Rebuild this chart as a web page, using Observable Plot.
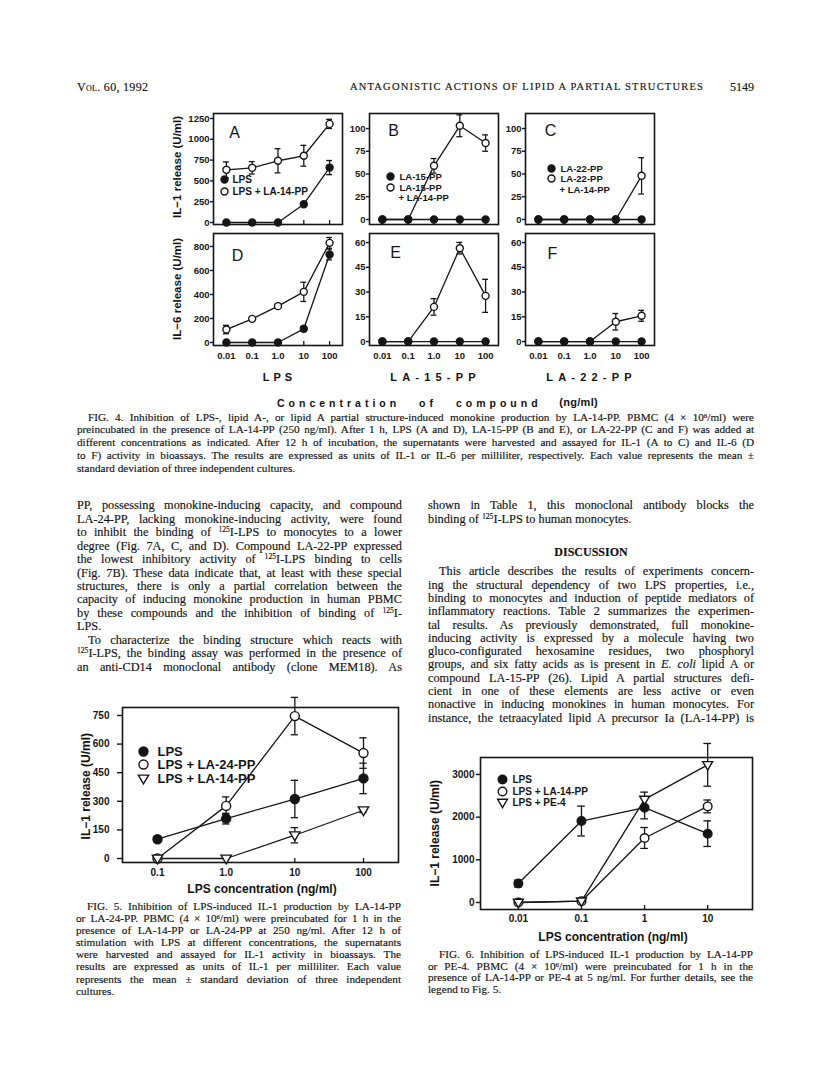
<!DOCTYPE html>
<html><head><meta charset="utf-8">
<script src="https://cdn.jsdelivr.net/npm/d3@7"></script>
<script src="https://cdn.jsdelivr.net/npm/@observablehq/plot@0.6"></script>
<style>
html,body{margin:0;padding:0;background:#fff;}
#page{position:relative;width:816px;height:1078px;overflow:hidden;background:#fff;color:#111;font-family:"Liberation Serif","Times New Roman",serif;-webkit-text-stroke:0.15px #111;}
#page sup{font-size:0.62em;vertical-align:0.5em;line-height:0;}
.sans{font-family:"Liberation Sans",Arial,sans-serif;font-weight:bold;-webkit-text-stroke:0;}
</style></head>
<body><div id="page"></div>
<script>
// ---------------- DATA ----------------
// Fig. 4 (concentration of compound, ng/ml)
const fig4X = [0.01, 0.1, 1, 10, 100];
const fig4XLabels = ["0.01", "0.1", "1.0", "10", "100"];
const fig4GroupLabels = ["LPS", "LA-15-PP", "LA-22-PP"];
// A: IL-1, LPS
const aLPS = [0, 0, 0, 220, 660];
const aLPSsd = [0, 0, 0, 20, 85];
const aLPS14 = [633, 657, 742, 802, 1185];
const aLPS14sd = [95, 75, 145, 125, 55];
// B: IL-1, LA-15-PP
const bLA15 = [0, 0, 0, 0, 0];
const bLA15sd = [0, 0, 0, 0, 0];
const bLA15_14 = [0, 0, 59, 103, 84];
const bLA15_14sd = [0, 0, 8, 12, 9];
// C: IL-1, LA-22-PP
const cLA22 = [0, 0, 0, 0, 0];
const cLA22sd = [0, 0, 0, 0, 0];
const cLA22_14 = [0, 0, 0, 0, 48];
const cLA22_14sd = [0, 0, 0, 0, 20];
// D: IL-6, LPS
const dLPS = [0, 0, 0, 114, 733];
const dLPSsd = [0, 0, 0, 20, 45];
const dLPS14 = [108, 197, 303, 422, 830];
const dLPS14sd = [35, 15, 20, 80, 45];
// E: IL-6, LA-15-PP
const eLA15 = [0, 0, 0, 0, 0];
const eLA15sd = [0, 0, 0, 0, 0];
const eLA15_14 = [0, 0, 21, 56.6, 27.7];
const eLA15_14sd = [0, 0, 5, 3.5, 10];
// F: IL-6, LA-22-PP
const fLA22 = [0, 0, 0, 0, 0];
const fLA22sd = [0, 0, 0, 0, 0];
const fLA22_14 = [0, 0, 0, 12, 15.6];
const fLA22_14sd = [0, 0, 0, 5, 3.3];
const il1Ticks = [0, 250, 500, 750, 1000, 1250];
const il1ppTicks = [0, 25, 50, 75, 100];
const il6Ticks = [0, 200, 400, 600, 800];
const il6ppTicks = [0, 15, 30, 45, 60];

// Fig. 5
const fig5X = [0.1, 1, 10, 100];
const fig5XLabels = ["0.1", "1.0", "10", "100"];
const fig5LPS = [101, 209, 312, 420];
const fig5LPSsd = [14, 28, 98, 80];
const fig5LPS24 = [0, 276, 747, 553];
const fig5LPS24sd = [0, 47, 98, 80];
const fig5LPS14 = [0, 0, 122, 253];
const fig5LPS14sd = [0, 0, 40, 12];
const fig5Ticks = [0, 150, 300, 450, 600, 750];

// Fig. 6
const fig6X = [0.01, 0.1, 1, 10];
const fig6XLabels = ["0.01", "0.1", "1", "10"];
const fig6LPS = [444, 1909, 2221, 1613];
const fig6LPSsd = [80, 350, 260, 300];
const fig6LPS14 = [0, 31, 1512, 2252];
const fig6LPS14sd = [0, 0, 245, 150];
const fig6PE4 = [0, 31, 2416, 3226];
const fig6PE4sd = [0, 0, 170, 500];
const fig6Ticks = [0, 1000, 2000, 3000];

// ---------------- HELPERS ----------------
const page = document.getElementById("page");
const INK = "#151515";
const triangleDown = {
  draw(ctx, size) {
    const r = Math.sqrt(size / Math.PI);
    ctx.moveTo(-r * 1.15, -r * 0.75);
    ctx.lineTo(r * 1.15, -r * 0.75);
    ctx.lineTo(0, r * 1.2);
    ctx.closePath();
  }
};

function rows(xs, ys, sds) { return xs.map((x, i) => ({x, y: ys[i], e: sds[i]})); }

function chart(cfg) {
  const {fl, ft, fw, fh, xDomain, xTicks, xLabels, yDomain, yTicks, series,
         capF, mB = 4, xPad = 6, yTickSize = 3, yPad = 1, fontSize = 9.5, r = 3.5,
         legend = [], legendFont = 10, letter = null, strokeW = 1.3} = cfg;
  const mL = 45, mR = 4, mT = 4;
  const marks = [Plot.frame({stroke: INK, strokeWidth: 1.6})];
  marks.push(Plot.axisY({ticks: yTicks, tickSize: yTickSize, tickPadding: yPad, label: null,
    tickFormat: d => String(d), stroke: INK, strokeWidth: 1.4}));
  if (xLabels) {
    const m = new Map(xTicks.map((t, i) => [t, xLabels[i]]));
    marks.push(Plot.axisX({ticks: xTicks, tickSize: 0, tickPadding: xPad, label: null,
      tickFormat: d => m.get(d)}));
  }
  marks.push(Plot.tickX(xTicks, {x: d => d, insetTop: fh - 4, stroke: INK, strokeWidth: 1.3}));
  for (const s of series) {
    const data = rows(xTicks, s.y, s.sd);
    const eb = data.filter(d => d.e > 0);
    marks.push(Plot.line(data, {x: "x", y: "y", stroke: INK, strokeWidth: strokeW}));
    marks.push(Plot.ruleX(eb, {x: "x", y1: d => d.y - d.e, y2: d => d.y + d.e, stroke: INK, strokeWidth: 1.3}));
    marks.push(Plot.ruleY(eb, {y: d => d.y + d.e, x1: d => d.x / capF, x2: d => d.x * capF, stroke: INK, strokeWidth: 1.3}));
    marks.push(Plot.ruleY(eb, {y: d => d.y - d.e, x1: d => d.x / capF, x2: d => d.x * capF, stroke: INK, strokeWidth: 1.3}));
  }
  for (const s of series) {
    const data = rows(xTicks, s.y, s.sd);
    marks.push(Plot.dot(data, {x: "x", y: "y", r, fill: s.fill, stroke: INK, strokeWidth: 1.4, symbol: s.symbol || "circle"}));
  }
  for (const it of legend) {
    if (it.sym) marks.push(Plot.dot([it.label], {frameAnchor: "top-left", dx: it.mx, dy: it.dy, r, fill: it.sym.fill, stroke: INK, strokeWidth: 1.4, symbol: it.sym.symbol || "circle"}));
    marks.push(Plot.text([it.label], {frameAnchor: "top-left", lineAnchor: "middle", dx: it.tx, dy: it.dy, text: d => d, textAnchor: "start", fontSize: legendFont, fontWeight: "bold", fill: INK}));
  }
  if (letter) marks.push(Plot.text([letter.t], {frameAnchor: "top-left", lineAnchor: "middle", dx: letter.dx, dy: letter.dy, text: d => d, textAnchor: "middle", fontSize: 16, fontWeight: "normal", fill: INK}));
  const svg = Plot.plot({
    width: fw + mL + mR, height: fh + mT + mB,
    marginLeft: mL, marginRight: mR, marginTop: mT, marginBottom: mB,
    x: {type: "log", domain: xDomain, axis: null},
    y: {domain: yDomain, axis: null},
    style: {fontFamily: "'Liberation Sans', Arial, sans-serif", fontSize: fontSize + "px", fontWeight: "bold", color: INK, background: "transparent", overflow: "visible"},
    marks
  });
  svg.style.position = "absolute";
  svg.style.left = (fl - mL) + "px";
  svg.style.top = (ft - mT) + "px";
  svg.style.webkitTextStroke = "0";
  page.appendChild(svg);
}

function label(html, x, yc, opts = {}) {
  const d = document.createElement("div");
  d.innerHTML = html;
  const fs = opts.fs || 11, lh = opts.lh || fs * 1.2;
  Object.assign(d.style, {position: "absolute", whiteSpace: "nowrap", fontSize: fs + "px", lineHeight: lh + "px",
    top: (yc - lh / 2) + "px"});
  if (opts.cls) d.className = opts.cls;
  if (opts.ls != null) d.style.letterSpacing = opts.ls + "px";
  if (opts.ws != null) d.style.wordSpacing = opts.ws + "px";
  if (opts.variant) d.style.fontVariant = opts.variant;
  if (opts.weight) d.style.fontWeight = opts.weight;
  page.appendChild(d);
  const w = d.getBoundingClientRect().width;
  if (opts.align === "center") d.style.left = (x - w / 2) + "px";
  else if (opts.align === "right") d.style.left = (x - w) + "px";
  else d.style.left = x + "px";
  if (opts.rotate) {
    d.style.left = (x - w / 2) + "px";
    d.style.transform = "rotate(-90deg)";
    d.style.transformOrigin = "50% 50%";
  }
  return d;
}

function justified(lines, x, right, y0, step, fs, opts = {}) {
  lines.forEach((ln, i) => {
    const indent = ln.indent || 0;
    const d = document.createElement("div");
    d.innerHTML = ln.t;
    const lh = step;
    Object.assign(d.style, {position: "absolute", whiteSpace: "nowrap", fontSize: fs + "px", lineHeight: lh + "px",
      left: (x + indent) + "px", top: (y0 + i * step - lh / 2) + "px"});
    if (opts.ls) d.style.letterSpacing = opts.ls + "px";
    page.appendChild(d);
    if (!ln.last) {
      const w = d.getBoundingClientRect().width;
      const n = (d.textContent.match(/ /g) || []).length;
      if (n) d.style.wordSpacing = ((right - x - indent - w) / n) + "px";
    }
  });
}

// ---------------- HEADER ----------------
label("Vol. 60, 1992", 77, 87, {fs: 12, variant: "small-caps", ls: 0.3});
label("ANTAGONISTIC ACTIONS OF LIPID A PARTIAL STRUCTURES", 350, 87, {fs: 10.5, ls: 1.2});
label("5149", 754, 87, {fs: 12, align: "right"});

// ---------------- FIG. 4 ----------------
const F = 1.3; // cap factor on log scale
const filled = {fill: INK}, open = {fill: "white"}, tri = {fill: "white", symbol: triangleDown};
const xd4 = [10 ** -2.5, 10 ** 2.5];
const colL = [213, 369, 525];
const topT = 113, topB = 233, fw4 = 129;
chart({fl: colL[0], ft: topT, fw: fw4, fh: 111, xDomain: xd4, xTicks: fig4X, yDomain: [-24, 1310], yTicks: il1Ticks, capF: F,
  series: [{y: aLPS14, sd: aLPS14sd, ...open}, {y: aLPS, sd: aLPSsd, ...filled}],
  legend: [{label: "LPS", sym: filled, mx: 11, tx: 19, dy: 66}, {label: "LPS + LA-14-PP", sym: open, mx: 11, tx: 19, dy: 78}],
  legendFont: 10, letter: {t: "A", dx: 21, dy: 19}});
chart({fl: colL[1], ft: topT, fw: fw4, fh: 111, xDomain: xd4, xTicks: fig4X, yDomain: [-5.5, 116.5], yTicks: il1ppTicks, capF: F,
  series: [{y: bLA15_14, sd: bLA15_14sd, ...open}, {y: bLA15, sd: bLA15sd, ...filled}],
  legend: [{label: "LA-15-PP", sym: filled, mx: 21, tx: 30, dy: 63}, {label: "LA-15-PP", sym: open, mx: 21, tx: 30, dy: 74}, {label: "+ LA-14-PP", mx: 21, tx: 29, dy: 84}],
  legendFont: 9.5, letter: {t: "B", dx: 24, dy: 17}});
chart({fl: colL[2], ft: topT, fw: fw4, fh: 111, xDomain: xd4, xTicks: fig4X, yDomain: [-5.5, 116.5], yTicks: il1ppTicks, capF: F,
  series: [{y: cLA22_14, sd: cLA22_14sd, ...open}, {y: cLA22, sd: cLA22sd, ...filled}],
  legend: [{label: "LA-22-PP", sym: filled, mx: 26, tx: 35, dy: 55}, {label: "LA-22-PP", sym: open, mx: 26, tx: 35, dy: 65}, {label: "+ LA-14-PP", mx: 26, tx: 34, dy: 76}],
  legendFont: 9.5, letter: {t: "C", dx: 25, dy: 17}});
chart({fl: colL[0], ft: topB, fw: fw4, fh: 112, xDomain: xd4, xTicks: fig4X, xLabels: fig4XLabels, mB: 22, xPad: 7, yDomain: [-25, 908], yTicks: il6Ticks, capF: F,
  series: [{y: dLPS, sd: dLPSsd, ...filled}, {y: dLPS14, sd: dLPS14sd, ...open}],
  letter: {t: "D", dx: 24, dy: 22}, fontSize: 9.5});
chart({fl: colL[1], ft: topB, fw: fw4, fh: 112, xDomain: xd4, xTicks: fig4X, xLabels: fig4XLabels, mB: 22, xPad: 7, yDomain: [-2.4, 65.5], yTicks: il6ppTicks, capF: F,
  series: [{y: eLA15_14, sd: eLA15_14sd, ...open}, {y: eLA15, sd: eLA15sd, ...filled}],
  letter: {t: "E", dx: 26, dy: 19}, fontSize: 9.5});
chart({fl: colL[2], ft: topB, fw: fw4, fh: 112, xDomain: xd4, xTicks: fig4X, xLabels: fig4XLabels, mB: 22, xPad: 7, yDomain: [-2.4, 65.5], yTicks: il6ppTicks, capF: F,
  series: [{y: fLA22_14, sd: fLA22_14sd, ...open}, {y: fLA22, sd: fLA22sd, ...filled}],
  letter: {t: "F", dx: 27, dy: 20}, fontSize: 9.5});

label("IL−1 release (U/ml)", 178, 167, {fs: 11.5, cls: "sans", rotate: true});
label("IL−6 release (U/ml)", 178, 289, {fs: 11.5, cls: "sans", rotate: true});
fig4GroupLabels.forEach((g, i) => label(g, colL[i] + fw4 / 2 + 2, 378, {fs: 11, cls: "sans", ls: g.length > 3 ? 5.2 : 4, align: "center"}));
label("Concentration of compound", 277, 403, {fs: 10.5, cls: "sans", ls: 4.0, ws: 12});
label("(ng/ml)", 598, 403, {fs: 11, cls: "sans", ls: 0.3, align: "right"});

justified([
  {t: "FIG. 4. Inhibition of LPS-, lipid A-, or lipid A partial structure-induced monokine production by LA-14-PP. PBMC (4 × 10<sup>6</sup>/ml) were", indent: 11},
  {t: "preincubated in the presence of LA-14-PP (250 ng/ml). After 1 h, LPS (A and D), LA-15-PP (B and E), or LA-22-PP (C and F) was added at"},
  {t: "different concentrations as indicated. After 12 h of incubation, the supernatants were harvested and assayed for IL-1 (A to C) and IL-6 (D"},
  {t: "to F) activity in bioassays. The results are expressed as units of IL-1 or IL-6 per milliliter, respectively. Each value represents the mean ±"},
  {t: "standard deviation of three independent cultures.", last: true}
], 77, 754, 417, 12.8, 11.2);

// ---------------- BODY TEXT ----------------
justified([
  {t: "PP, possessing monokine-inducing capacity, and compound"},
  {t: "LA-24-PP, lacking monokine-inducing activity, were found"},
  {t: "to inhibit the binding of <sup>125</sup>I-LPS to monocytes to a lower"},
  {t: "degree (Fig. 7A, C, and D). Compound LA-22-PP expressed"},
  {t: "the lowest inhibitory activity of <sup>125</sup>I-LPS binding to cells"},
  {t: "(Fig. 7B). These data indicate that, at least with these special"},
  {t: "structures, there is only a partial correlation between the"},
  {t: "capacity of inducing monokine production in human PBMC"},
  {t: "by these compounds and the inhibition of binding of <sup>125</sup>I-"},
  {t: "LPS.", last: true},
  {t: "To characterize the binding structure which reacts with", indent: 11},
  {t: "<sup>125</sup>I-LPS, the binding assay was performed in the presence of"},
  {t: "an anti-CD14 monoclonal antibody (clone MEM18). As"}
], 77, 402, 506, 13.45, 12.3);

justified([
  {t: "shown in Table 1, this monoclonal antibody blocks the"},
  {t: "binding of <sup>125</sup>I-LPS to human monocytes.", last: true}
], 428, 754, 506, 13.45, 12.3);
label("DISCUSSION", 591, 552, {fs: 12, weight: "bold", align: "center"});
justified([
  {t: "This article describes the results of experiments concern-", indent: 11},
  {t: "ing the structural dependency of two LPS properties, i.e.,"},
  {t: "binding to monocytes and induction of peptide mediators of"},
  {t: "inflammatory reactions. Table 2 summarizes the experimen-"},
  {t: "tal results. As previously demonstrated, full monokine-"},
  {t: "inducing activity is expressed by a molecule having two"},
  {t: "gluco-configurated hexosamine residues, two phosphoryl"},
  {t: "groups, and six fatty acids as is present in <i>E. coli</i> lipid A or"},
  {t: "compound LA-15-PP (26). Lipid A partial structures defi-"},
  {t: "cient in one of these elements are less active or even"},
  {t: "nonactive in inducing monokines in human monocytes. For"},
  {t: "instance, the tetraacylated lipid A precursor Ia (LA-14-PP) is"}
], 428, 754, 572, 13.3, 12.3);

// ---------------- FIG. 5 ----------------
chart({fl: 122, ft: 707, fw: 276, fh: 155, xDomain: [10 ** -1.51, 10 ** 2.51], xTicks: fig5X, xLabels: fig5XLabels,
  mB: 22, xPad: 6, yDomain: [-21, 792], yTicks: fig5Ticks, yTickSize: 5, yPad: 8, capF: 1.13, fontSize: 10, r: 4.5,
  series: [{y: fig5LPS24, sd: fig5LPS24sd, ...open}, {y: fig5LPS14, sd: fig5LPS14sd, ...tri}, {y: fig5LPS, sd: fig5LPSsd, ...filled}],
  legend: [{label: "LPS", sym: filled, mx: 21, tx: 35, dy: 44}, {label: "LPS + LA-24-PP", sym: open, mx: 21, tx: 35, dy: 57}, {label: "LPS + LA-14-PP", sym: tri, mx: 21, tx: 35, dy: 71}],
  legendFont: 13});
label("IL−1 release (U/ml)", 86, 786, {fs: 12, cls: "sans", rotate: true});
label("LPS concentration (ng/ml)", 262, 889, {fs: 12, cls: "sans", align: "center"});
justified([
  {t: "FIG. 5. Inhibition of LPS-induced IL-1 production by LA-14-PP", indent: 11},
  {t: "or LA-24-PP. PBMC (4 × 10<sup>6</sup>/ml) were preincubated for 1 h in the"},
  {t: "presence of LA-14-PP or LA-24-PP at 250 ng/ml. After 12 h of"},
  {t: "stimulation with LPS at different concentrations, the supernatants"},
  {t: "were harvested and assayed for IL-1 activity in bioassays. The"},
  {t: "results are expressed as units of IL-1 per milliliter. Each value"},
  {t: "represents the mean ± standard deviation of three independent"},
  {t: "cultures.", last: true}
], 76, 401, 906, 12.1, 11.2);

// ---------------- FIG. 6 ----------------
chart({fl: 480, ft: 757, fw: 272, fh: 152, xDomain: [10 ** -2.6, 10 ** 1.71], xTicks: fig6X, xLabels: fig6XLabels,
  mB: 22, xPad: 5, yDomain: [-164, 3398], yTicks: fig6Ticks, yTickSize: 4, yPad: 2, capF: 1.15, fontSize: 10, r: 4.3,
  series: [{y: fig6LPS14, sd: fig6LPS14sd, ...open}, {y: fig6PE4, sd: fig6PE4sd, ...tri}, {y: fig6LPS, sd: fig6LPSsd, ...filled}],
  legend: [{label: "LPS", sym: filled, mx: 22, tx: 32, dy: 22}, {label: "LPS + LA-14-PP", sym: open, mx: 22, tx: 32, dy: 34}, {label: "LPS + PE-4", sym: tri, mx: 22, tx: 32, dy: 45}],
  legendFont: 10});
label("IL−1 release (U/ml)", 435, 833, {fs: 12, cls: "sans", rotate: true});
label("LPS concentration (ng/ml)", 613, 937, {fs: 12, cls: "sans", align: "center"});
justified([
  {t: "FIG. 6. Inhibition of LPS-induced IL-1 production by LA-14-PP", indent: 11},
  {t: "or PE-4. PBMC (4 × 10<sup>6</sup>/ml) were preincubated for 1 h in the"},
  {t: "presence of LA-14-PP or PE-4 at 5 ng/ml. For further details, see the"},
  {t: "legend to Fig. 5.", last: true}
], 428, 753, 955, 11.6, 11.2);
</script></body></html>
